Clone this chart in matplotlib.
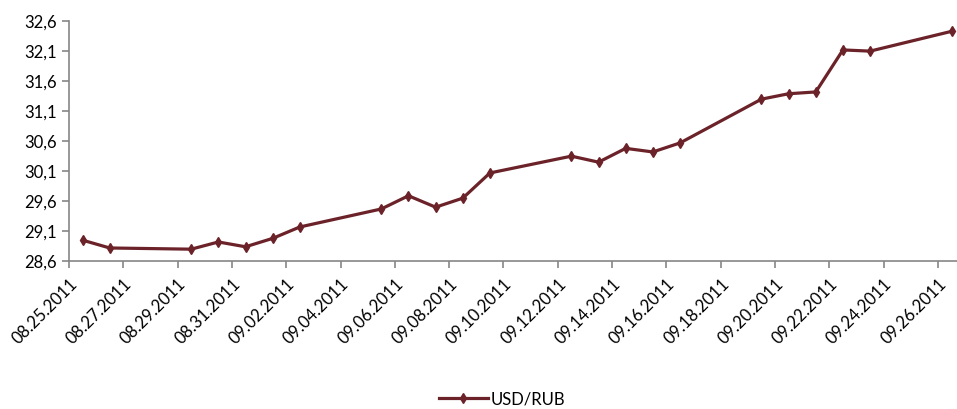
import datetime as dt
import numpy as np
import matplotlib
matplotlib.use("Agg")
import matplotlib.pyplot as plt
import matplotlib.dates as mdates
from matplotlib.ticker import FuncFormatter

plt.rcParams['font.family'] = ['Lato', 'DejaVu Sans']

# daily USD/RUB fixing
dates = ['08.25.2011', '08.26.2011', '08.29.2011', '08.30.2011', '08.31.2011',
         '09.01.2011', '09.02.2011', '09.05.2011', '09.06.2011', '09.07.2011',
         '09.08.2011', '09.09.2011', '09.12.2011', '09.13.2011', '09.14.2011',
         '09.15.2011', '09.16.2011', '09.19.2011', '09.20.2011', '09.21.2011',
         '09.22.2011', '09.23.2011', '09.26.2011']
usd_rub = [28.94, 28.81, 28.79, 28.91, 28.83, 28.97, 29.16, 29.46, 29.68, 29.49,
           29.64, 30.06, 30.34, 30.24, 30.47, 30.41, 30.56, 31.29, 31.38, 31.41,
           32.11, 32.09, 32.42]

y_ticks = np.arange(28.6, 32.61, 0.5)
line_color = '#6B2329'
axis_color = '#868686'

x = [dt.datetime.strptime(d, '%m.%d.%Y') + dt.timedelta(hours=12) for d in dates]

fig = plt.figure(figsize=(9.57, 4.10), dpi=100)
ax = fig.add_axes([0.0721, 0.362, 0.9279, 0.5855])

ax.plot(x, usd_rub, color=line_color, lw=2.3, marker='d', ms=5,
        markeredgecolor=line_color, markerfacecolor=line_color, label='USD/RUB')

start = dt.datetime(2011, 8, 25)
ax.set_xlim(start, start + dt.timedelta(days=32.7))
ax.set_ylim(28.6, 32.6)
ax.set_yticks(y_ticks)
ax.yaxis.set_major_formatter(FuncFormatter(lambda v, p: f'{v:.1f}'.replace('.', ',')))

ax.set_xticks([start + dt.timedelta(days=2 * i) for i in range(17)])
ax.xaxis.set_major_formatter(mdates.DateFormatter('%m.%d.%Y'))
for lab in ax.get_xticklabels():
    lab.set_rotation(45)
    lab.set_ha('right')
    lab.set_rotation_mode('anchor')

for side in ['top', 'right']:
    ax.spines[side].set_visible(False)
for side in ['left', 'bottom']:
    ax.spines[side].set_color(axis_color)
    ax.spines[side].set_linewidth(1.2)
ax.tick_params(axis='both', colors=axis_color, length=5, width=1.2,
               labelsize=12, labelcolor='black')
ax.tick_params(axis='x', pad=5)

fig.legend(loc='center', bbox_to_anchor=(0.525, 0.026), frameon=False,
           fontsize=12, handlelength=2.9, handletextpad=0.2)

fig.savefig('out.png', dpi=100)
